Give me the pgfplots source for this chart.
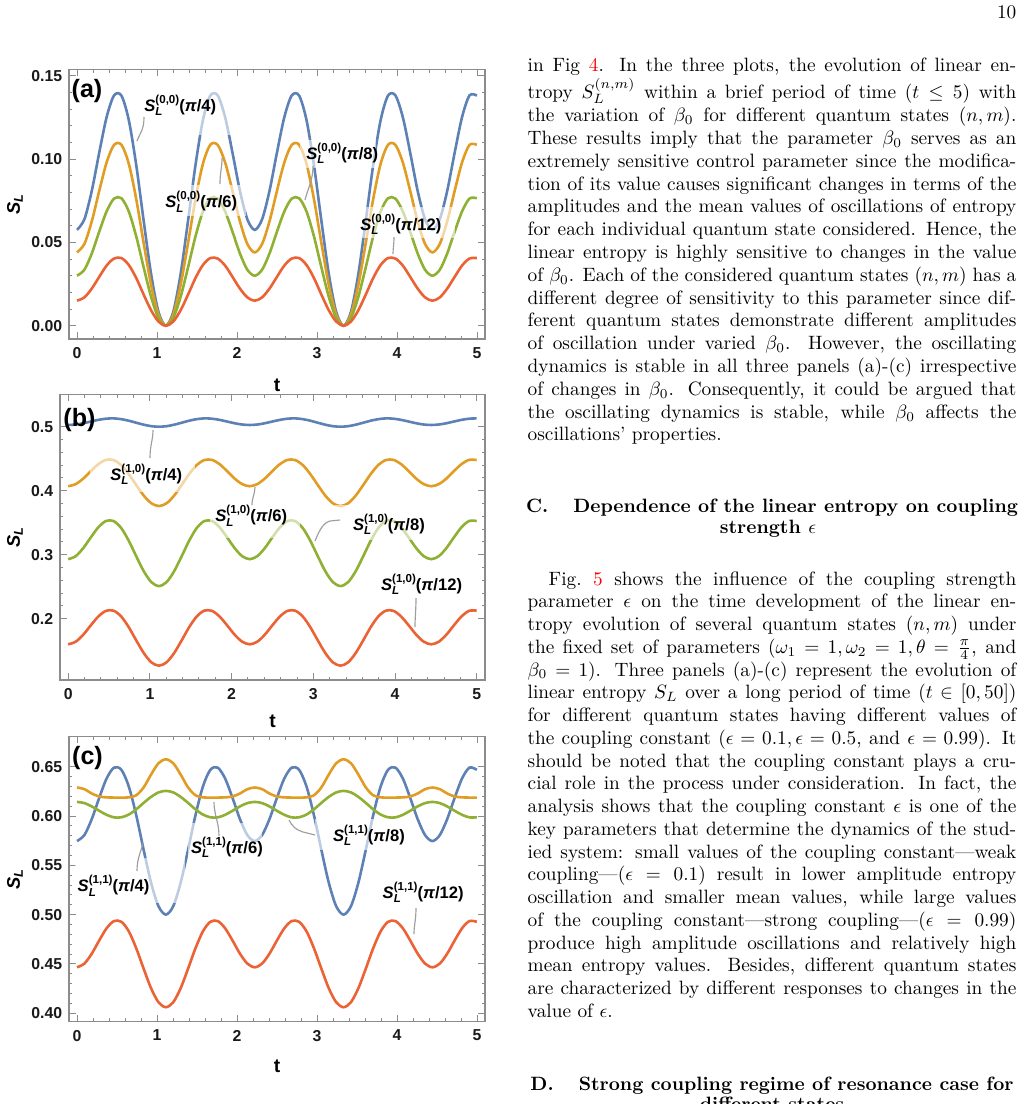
\documentclass[border=0pt]{standalone}
\usepackage{fontspec}
\usepackage{pgfplots}
\usepackage{pgfplotstable}
\pgfplotsset{compat=1.18}
\newfontfamily\pf{Liberation Sans}
\definecolor{mblue}{HTML}{5E81B5}
\definecolor{morange}{HTML}{E19C24}
\definecolor{mgreen}{HTML}{8FB032}
\definecolor{mred}{HTML}{EB6235}

\pgfplotstableread{
t b o g r
0.0000 0.0575 0.0440 0.0300 0.0150
0.0926 0.0639 0.0491 0.0336 0.0170
0.1851 0.0810 0.0627 0.0434 0.0223
0.2777 0.1038 0.0809 0.0564 0.0293
0.3702 0.1252 0.0980 0.0686 0.0361
0.4628 0.1382 0.1085 0.0763 0.0403
0.5554 0.1381 0.1086 0.0765 0.0406
0.6479 0.1233 0.0971 0.0685 0.0364
0.7405 0.0964 0.0760 0.0536 0.0286
0.8330 0.0631 0.0497 0.0351 0.0187
0.9256 0.0312 0.0246 0.0174 0.0093
1.0182 0.0083 0.0066 0.0046 0.0025
1.1107 0.0000 0.0000 0.0000 0.0000
1.2033 0.0083 0.0066 0.0046 0.0025
1.2958 0.0312 0.0246 0.0174 0.0093
1.3884 0.0631 0.0497 0.0351 0.0187
1.4810 0.0964 0.0760 0.0536 0.0286
1.5735 0.1233 0.0971 0.0685 0.0364
1.6661 0.1381 0.1086 0.0765 0.0406
1.7586 0.1382 0.1085 0.0763 0.0403
1.8512 0.1252 0.0980 0.0686 0.0361
1.9438 0.1038 0.0809 0.0564 0.0293
2.0363 0.0810 0.0627 0.0434 0.0223
2.1289 0.0639 0.0491 0.0336 0.0170
2.2214 0.0575 0.0440 0.0300 0.0150
2.3140 0.0639 0.0491 0.0336 0.0170
2.4066 0.0810 0.0627 0.0434 0.0223
2.4991 0.1038 0.0809 0.0564 0.0293
2.5917 0.1252 0.0980 0.0686 0.0361
2.6842 0.1382 0.1085 0.0763 0.0403
2.7768 0.1381 0.1086 0.0765 0.0406
2.8694 0.1233 0.0971 0.0685 0.0364
2.9619 0.0964 0.0760 0.0536 0.0286
3.0545 0.0631 0.0497 0.0351 0.0187
3.1470 0.0312 0.0246 0.0174 0.0093
3.2396 0.0083 0.0066 0.0046 0.0025
3.3322 0.0000 0.0000 0.0000 0.0000
3.4247 0.0083 0.0066 0.0046 0.0025
3.5173 0.0312 0.0246 0.0174 0.0093
3.6098 0.0631 0.0497 0.0351 0.0187
3.7024 0.0964 0.0760 0.0536 0.0286
3.7950 0.1233 0.0971 0.0685 0.0364
3.8875 0.1381 0.1086 0.0765 0.0406
3.9801 0.1382 0.1085 0.0763 0.0403
4.0726 0.1252 0.0980 0.0686 0.0361
4.1652 0.1038 0.0809 0.0564 0.0293
4.2578 0.0810 0.0627 0.0434 0.0223
4.3503 0.0639 0.0491 0.0336 0.0170
4.4429 0.0575 0.0440 0.0300 0.0150
4.5354 0.0639 0.0491 0.0336 0.0170
4.6280 0.0810 0.0627 0.0434 0.0223
4.7206 0.1038 0.0809 0.0564 0.0293
4.8131 0.1252 0.0980 0.0686 0.0361
4.9057 0.1382 0.1085 0.0763 0.0403
4.9982 0.1381 0.1086 0.0765 0.0406
}\tabA

\pgfplotstableread{
t b o g r
0.0000 0.5027 0.4070 0.2930 0.1600
0.0926 0.5034 0.4103 0.2977 0.1641
0.1851 0.5054 0.4190 0.3104 0.1751
0.2777 0.5081 0.4307 0.3272 0.1898
0.3702 0.5107 0.4416 0.3430 0.2036
0.4628 0.5125 0.4482 0.3527 0.2123
0.5554 0.5130 0.4479 0.3526 0.2126
0.6479 0.5118 0.4402 0.3418 0.2036
0.7405 0.5094 0.4261 0.3220 0.1869
0.8330 0.5062 0.4088 0.2975 0.1661
0.9256 0.5031 0.3922 0.2740 0.1462
1.0182 0.5008 0.3803 0.2571 0.1318
1.1107 0.5000 0.3760 0.2510 0.1266
1.2033 0.5008 0.3803 0.2571 0.1318
1.2958 0.5031 0.3922 0.2740 0.1462
1.3884 0.5062 0.4088 0.2975 0.1661
1.4810 0.5094 0.4261 0.3220 0.1869
1.5735 0.5118 0.4402 0.3418 0.2036
1.6661 0.5130 0.4479 0.3526 0.2126
1.7586 0.5125 0.4482 0.3527 0.2123
1.8512 0.5107 0.4416 0.3430 0.2036
1.9438 0.5081 0.4307 0.3272 0.1898
2.0363 0.5054 0.4190 0.3104 0.1751
2.1289 0.5034 0.4103 0.2977 0.1641
2.2214 0.5027 0.4070 0.2930 0.1600
2.3140 0.5034 0.4103 0.2977 0.1641
2.4066 0.5054 0.4190 0.3104 0.1751
2.4991 0.5081 0.4307 0.3272 0.1898
2.5917 0.5107 0.4416 0.3430 0.2036
2.6842 0.5125 0.4482 0.3527 0.2123
2.7768 0.5130 0.4479 0.3526 0.2126
2.8694 0.5118 0.4402 0.3418 0.2036
2.9619 0.5094 0.4261 0.3220 0.1869
3.0545 0.5062 0.4088 0.2975 0.1661
3.1470 0.5031 0.3922 0.2740 0.1462
3.2396 0.5008 0.3803 0.2571 0.1318
3.3322 0.5000 0.3760 0.2510 0.1266
3.4247 0.5008 0.3803 0.2571 0.1318
3.5173 0.5031 0.3922 0.2740 0.1462
3.6098 0.5062 0.4088 0.2975 0.1661
3.7024 0.5094 0.4261 0.3220 0.1869
3.7950 0.5118 0.4402 0.3418 0.2036
3.8875 0.5130 0.4479 0.3526 0.2126
3.9801 0.5125 0.4482 0.3527 0.2123
4.0726 0.5107 0.4416 0.3430 0.2036
4.1652 0.5081 0.4307 0.3272 0.1898
4.2578 0.5054 0.4190 0.3104 0.1751
4.3503 0.5034 0.4103 0.2977 0.1641
4.4429 0.5027 0.4070 0.2930 0.1600
4.5354 0.5034 0.4103 0.2977 0.1641
4.6280 0.5054 0.4190 0.3104 0.1751
4.7206 0.5081 0.4307 0.3272 0.1898
4.8131 0.5107 0.4416 0.3430 0.2036
4.9057 0.5125 0.4482 0.3527 0.2123
4.9982 0.5130 0.4479 0.3526 0.2126
}\tabB

\pgfplotstableread{
t b o g r
0.0000 0.5746 0.6289 0.6143 0.4466
0.0926 0.5807 0.6272 0.6131 0.4504
0.1851 0.5970 0.6228 0.6097 0.4605
0.2777 0.6184 0.6198 0.6053 0.4738
0.3702 0.6381 0.6189 0.6012 0.4862
0.4628 0.6491 0.6187 0.5986 0.4935
0.5554 0.6468 0.6187 0.5987 0.4927
0.6479 0.6298 0.6189 0.6015 0.4830
0.7405 0.6008 0.6210 0.6068 0.4659
0.8330 0.5657 0.6290 0.6133 0.4452
0.9256 0.5324 0.6420 0.6194 0.4254
1.0182 0.5086 0.6535 0.6239 0.4112
1.1107 0.5000 0.6575 0.6255 0.4061
1.2033 0.5086 0.6535 0.6239 0.4112
1.2958 0.5324 0.6420 0.6194 0.4254
1.3884 0.5657 0.6290 0.6133 0.4452
1.4810 0.6008 0.6210 0.6068 0.4659
1.5735 0.6298 0.6189 0.6015 0.4830
1.6661 0.6468 0.6187 0.5987 0.4927
1.7586 0.6491 0.6187 0.5986 0.4935
1.8512 0.6381 0.6189 0.6012 0.4862
1.9438 0.6184 0.6198 0.6053 0.4738
2.0363 0.5970 0.6228 0.6097 0.4605
2.1289 0.5807 0.6272 0.6131 0.4504
2.2214 0.5746 0.6289 0.6143 0.4466
2.3140 0.5807 0.6272 0.6131 0.4504
2.4066 0.5970 0.6228 0.6097 0.4605
2.4991 0.6184 0.6198 0.6053 0.4738
2.5917 0.6381 0.6189 0.6012 0.4862
2.6842 0.6491 0.6187 0.5986 0.4935
2.7768 0.6468 0.6187 0.5987 0.4927
2.8694 0.6298 0.6189 0.6015 0.4830
2.9619 0.6008 0.6210 0.6068 0.4659
3.0545 0.5657 0.6290 0.6133 0.4452
3.1470 0.5324 0.6420 0.6194 0.4254
3.2396 0.5086 0.6535 0.6239 0.4112
3.3322 0.5000 0.6575 0.6255 0.4061
3.4247 0.5086 0.6535 0.6239 0.4112
3.5173 0.5324 0.6420 0.6194 0.4254
3.6098 0.5657 0.6290 0.6133 0.4452
3.7024 0.6008 0.6210 0.6068 0.4659
3.7950 0.6298 0.6189 0.6015 0.4830
3.8875 0.6468 0.6187 0.5987 0.4927
3.9801 0.6491 0.6187 0.5986 0.4935
4.0726 0.6381 0.6189 0.6012 0.4862
4.1652 0.6184 0.6198 0.6053 0.4738
4.2578 0.5970 0.6228 0.6097 0.4605
4.3503 0.5807 0.6272 0.6131 0.4504
4.4429 0.5746 0.6289 0.6143 0.4466
4.5354 0.5807 0.6272 0.6131 0.4504
4.6280 0.5970 0.6228 0.6097 0.4605
4.7206 0.6184 0.6198 0.6053 0.4738
4.8131 0.6381 0.6189 0.6012 0.4862
4.9057 0.6491 0.6187 0.5986 0.4935
4.9982 0.6468 0.6187 0.5987 0.4927
}\tabC

\pgfplotsset{
  mma/.style={
    scale only axis, anchor=north west,
    xmin=-0.1, xmax=5.1,
    xtick={0,1,2,3,4,5},
    minor x tick num=4, minor y tick num=4,
    tick align=inside,
    axis line style={draw=black!45, line width=0.55pt},
    every tick/.style={draw=black!45, line width=0.5pt},
    major tick length=3.4pt, minor tick length=1.8pt,
    /pgf/number format/assume math mode=true,
    ticklabel style={font=\pf\bfseries\fontsize{8.2}{9}\selectfont, text=black!90},
    xticklabel style={yshift=-0.8pt},
    ylabel={\pf\bfseries\fontsize{9.5}{10}\selectfont\textit{S}\textsubscript{\textit{L}}},
    xlabel={\pf\bfseries\fontsize{10}{11}\selectfont t},
    every axis plot/.append style={line width=1.35pt, smooth, no markers},
  }
}

\newcommand{\SLab}[2]{{\pf\bfseries\fontsize{8.6}{9}\selectfont\textit{S}\rlap{\raisebox{-0.5ex}{\fontsize{6}{6}\selectfont\textit{L}}}\raisebox{0.9ex}{\fontsize{6}{6}\selectfont(#1)}(\textit{π}/#2)}}
\newcommand{\TL}[2]{\node[anchor=base west, inner sep=0pt] at (527.3,#1) {\makebox[253.2pt][s]{#2}};}
\newcommand{\TN}[2]{\node[anchor=base west, inner sep=0pt] at (527.3,#1) {#2};}

\begin{document}
\begin{tikzpicture}
\begin{scope}[x=0.518135pt,y=-0.518135pt]
\path[use as bounding box] (0,0) rectangle (1024,1104);
\end{scope}

% panel (a)
\begin{axis}[mma, at={(35.751pt,-35.907pt)}, width=215.544pt, height=139.741pt,
  ymin=-0.008, ymax=0.1539, ytick={0,0.05,0.1,0.15},
  yticklabel style={/pgf/number format/.cd, fixed, fixed zerofill, precision=2},
  ylabel style={at={(axis description cs:-0.1298,0.5)}, anchor=center},
  xlabel style={at={(axis description cs:0.5,-0.1706)}, anchor=center}]
\addplot[mblue] table[x=t,y=b]{\tabA};
\addplot[morange] table[x=t,y=o]{\tabA};
\addplot[mgreen] table[x=t,y=g]{\tabA};
\addplot[mred] table[x=t,y=r]{\tabA};
\end{axis}

% panel (b)
\begin{axis}[mma, at={(31.088pt,-204.301pt)}, width=220.207pt, height=148.031pt,
  ymin=0.1042, ymax=0.5506, ytick={0.2,0.3,0.4,0.5},
  yticklabel style={/pgf/number format/.cd, fixed, fixed zerofill, precision=1},
  ylabel style={at={(axis description cs:-0.1059,0.5)}, anchor=center},
  xlabel style={at={(axis description cs:0.5,-0.145)}, anchor=center}]
\addplot[mblue] table[x=t,y=b]{\tabB};
\addplot[morange] table[x=t,y=o]{\tabB};
\addplot[mgreen] table[x=t,y=g]{\tabB};
\addplot[mred] table[x=t,y=r]{\tabB};
\end{axis}

% panel (c)
\begin{axis}[mma, at={(35.751pt,-381.710pt)}, width=215.544pt, height=147.668pt,
  ymin=0.3914, ymax=0.6804, ytick={0.4,0.45,0.5,0.55,0.6,0.65},
  yticklabel style={/pgf/number format/.cd, fixed, fixed zerofill, precision=2},
  ylabel style={at={(axis description cs:-0.1298,0.5)}, anchor=center},
  xlabel style={at={(axis description cs:0.5,-0.1579)}, anchor=center}]
\addplot[mblue] table[x=t,y=b]{\tabC};
\addplot[morange] table[x=t,y=o]{\tabC};
\addplot[mgreen] table[x=t,y=g]{\tabC};
\addplot[mred] table[x=t,y=r]{\tabC};
\end{axis}

\begin{scope}[x=0.518135pt,y=-0.518135pt]
% faded regions behind callouts
\fill[white, opacity=0.6] (196,90) rectangle (234,135);
\fill[white, opacity=0.6] (163,185) rectangle (246,216);
\fill[white, opacity=0.6] (300,140) rectangle (376,168);
\fill[white, opacity=0.6] (358,207) rectangle (455,238);
\fill[white, opacity=0.6] (90,455) rectangle (195,492);
\fill[white, opacity=0.6] (210,507) rectangle (300,538);
\fill[white, opacity=0.6] (335,505) rectangle (430,540);
\fill[white, opacity=0.6] (75,858) rectangle (185,903);
\fill[white, opacity=0.6] (188,823) rectangle (262,858);
\fill[white, opacity=0.6] (315,819) rectangle (405,850);

% panel letters
\node[font=\pf\bfseries\fontsize{13}{14}\selectfont, inner sep=0pt] at (87,91.5) {(a)};
\node[font=\pf\bfseries\fontsize{13}{14}\selectfont, inner sep=0pt] at (79.5,420) {(b)};
\node[font=\pf\bfseries\fontsize{13}{14}\selectfont, inner sep=0pt] at (87.5,758) {(c)};

% callout labels
\node[anchor=base west, inner sep=0pt] at (144,111) {\SLab{0,0}{4}};
\node[anchor=base west, inner sep=0pt] at (165,207.7) {\SLab{0,0}{6}};
\node[anchor=base west, inner sep=0pt] at (306,159) {\SLab{0,0}{8}};
\node[anchor=base west, inner sep=0pt] at (360,230) {\SLab{0,0}{12}};
\node[anchor=base west, inner sep=0pt] at (110,480) {\SLab{1,0}{4}};
\node[anchor=base west, inner sep=0pt] at (215,521.7) {\SLab{1,0}{6}};
\node[anchor=base west, inner sep=0pt] at (352.7,530) {\SLab{1,0}{8}};
\node[anchor=base west, inner sep=0pt] at (380.7,590) {\SLab{1,0}{12}};
\node[anchor=base west, inner sep=0pt] at (77.3,891.7) {\SLab{1,1}{4}};
\node[anchor=base west, inner sep=0pt] at (190.7,853.3) {\SLab{1,1}{6}};
\node[anchor=base west, inner sep=0pt] at (332.7,841) {\SLab{1,1}{8}};
\node[anchor=base west, inner sep=0pt] at (382.3,898.3) {\SLab{1,1}{12}};

% leader lines
\begin{scope}[draw=black!38, line width=0.6pt]
\draw (144,117) .. controls (144,130) and (140,133) .. (137,141);
\draw (220,184) .. controls (220,172) and (222,168) .. (222,158);
\draw (313,166) .. controls (313,180) and (308,188) .. (305,200);
\draw (394,237) .. controls (394,245) and (393,248) .. (393,254);
\draw (150,458) .. controls (150,445) and (153,440) .. (153,430);
\draw (252,505) .. controls (252,497) and (255,494) .. (255,487);
\draw (340,520) -- (330,521) .. controls (322,523) and (318,534) .. (315,541);
\draw (416,598) .. controls (416,610) and (415,618) .. (415,627);
\draw (137,871) .. controls (137,858) and (141,852) .. (143,843);
\draw (219,836) .. controls (219,822) and (214,815) .. (214,802);
\draw (315,835) -- (303,832) .. controls (296,830) and (292,826) .. (289,820);
\draw (416,908) .. controls (416,920) and (414,925) .. (414,934);
\end{scope}

% page number
\node[anchor=base east, inner sep=0pt] at (1016.7,18.3) {10};

% text column
\TL{71.7}{in Fig \textcolor{red}{4}. In the three plots, the evolution of linear en-}
\TL{98.3}{tropy $S_L^{(n,m)}$ within a brief period of time ($t\leq 5$) with}
\TL{121.7}{the variation of $\beta_0$ for different quantum states $(n,m)$.}
\TL{144.5}{These results imply that the parameter $\beta_0$ serves as an}
\TL{167.3}{extremely sensitive control parameter since the modifica-}
\TL{190.1}{tion of its value causes significant changes in terms of the}
\TL{212.9}{amplitudes and the mean values of oscillations of entropy}
\TL{235.7}{for each individual quantum state considered. Hence, the}
\TL{258.5}{linear entropy is highly sensitive to changes in the value}
\TL{281.3}{of $\beta_0$. Each of the considered quantum states $(n,m)$ has a}
\TL{304.1}{different degree of sensitivity to this parameter since dif-}
\TL{326.9}{ferent quantum states demonstrate different amplitudes}
\TL{349.7}{of oscillation under varied $\beta_0$. However, the oscillating}
\TL{372.5}{dynamics is stable in all three panels (a)-(c) irrespective}
\TL{395.3}{of changes in $\beta_0$. Consequently, it could be argued that}
\TL{418.1}{the oscillating dynamics is stable, while $\beta_0$ affects the}
\TN{440.9}{oscillations' properties.}

\node[anchor=base, inner sep=0pt] at (772,512.3) {\bfseries C.\hspace{13pt}Dependence of the linear entropy on coupling};
\node[anchor=base, inner sep=0pt] at (768,533) {\bfseries strength $\epsilon$};

\node[anchor=base west, inner sep=0pt] at (548.3,585) {\makebox[242.3pt][s]{Fig.~\textcolor{red}{5} shows the influence of the coupling strength}};
\TL{607.75}{parameter $\epsilon$ on the time development of the linear en-}
\TL{630.5}{tropy evolution of several quantum states $(n,m)$ under}
\TL{653.25}{the fixed set of parameters ($\omega_1=1,\omega_2=1,\theta=\frac{\pi}{4}$, and}
\TL{676.0}{$\beta_0=1$). Three panels (a)-(c) represent the evolution of}
\TL{698.75}{linear entropy $S_L$ over a long period of time ($t\in[0,50]$)}
\TL{721.5}{for different quantum states having different values of}
\TL{744.25}{the coupling constant ($\epsilon=0.1,\epsilon=0.5$, and $\epsilon=0.99$). It}
\TL{767.0}{should be noted that the coupling constant plays a cru-}
\TL{789.75}{cial role in the process under consideration. In fact, the}
\TL{812.5}{analysis shows that the coupling constant $\epsilon$ is one of the}
\TL{835.25}{key parameters that determine the dynamics of the stud-}
\TL{858.0}{ied system: small values of the coupling constant---weak}
\TL{880.75}{coupling---($\epsilon=0.1$) result in lower amplitude entropy}
\TL{903.5}{oscillation and smaller mean values, while large values}
\TL{926.25}{of the coupling constant---strong coupling---($\epsilon=0.99$)}
\TL{949.0}{produce high amplitude oscillations and relatively high}
\TL{971.75}{mean entropy values. Besides, different quantum states}
\TL{994.5}{are characterized by different responses to changes in the}
\TN{1017.25}{value of $\epsilon$.}

\node[anchor=base, inner sep=0pt] at (772,1090) {\bfseries D.\hspace{13pt}Strong coupling regime of resonance case for};
\node[anchor=base, inner sep=0pt] at (772,1110.5) {\bfseries different states};

\pgfresetboundingbox
\path[use as bounding box] (0,0) rectangle (1024,1104);
\end{scope}
\end{tikzpicture}
\end{document}
